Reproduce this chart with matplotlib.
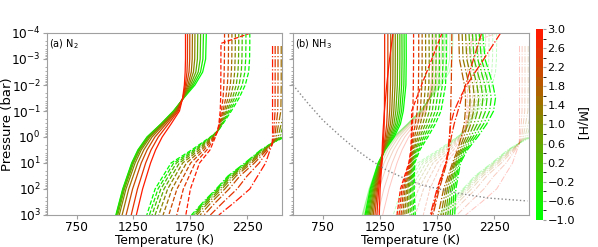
import numpy as np
import matplotlib
matplotlib.use("Agg")
import matplotlib.pyplot as plt
from matplotlib.colors import LinearSegmentedColormap, BoundaryNorm
from matplotlib.cm import ScalarMappable

# ---------------- data ----------------
mh_a = [-1.0, -0.5, 0.0, 0.5, 1.0, 1.5, 2.0, 2.5, 3.0]
mh_b = [-1.0, -0.6, -0.2, 0.2, 0.6, 1.0, 1.4, 1.8, 2.2, 2.6, 3.0]

# Panel (a) N2 : solid family
logp_a_solid = [-4, -3, -2.5, -2, -1.5, -1, -0.5, 0, 0.5, 1, 2, 3]
T_a_solid = [
    [1890, 1884, 1858, 1790, 1692, 1600, 1490, 1368, 1288, 1234, 1155, 1095],
    [1865, 1860, 1839, 1777, 1690, 1604, 1492, 1372, 1292, 1237, 1158, 1098],
    [1840, 1836, 1819, 1765, 1689, 1609, 1496, 1377, 1297, 1242, 1163, 1103],
    [1815, 1812, 1798, 1752, 1688, 1614, 1501, 1385, 1305, 1250, 1171, 1112],
    [1790, 1788, 1777, 1740, 1686, 1620, 1509, 1396, 1318, 1264, 1184, 1125],
    [1768, 1766, 1758, 1728, 1685, 1626, 1520, 1413, 1340, 1287, 1208, 1150],
    [1745, 1744, 1738, 1716, 1684, 1634, 1536, 1438, 1369, 1318, 1242, 1185],
    [1725, 1724, 1720, 1706, 1683, 1643, 1556, 1468, 1404, 1357, 1285, 1230],
    [1707, 1707, 1704, 1697, 1682, 1654, 1580, 1502, 1444, 1400, 1330, 1275],
]
# Panel (a) N2 : dashed family
logp_a_dashed = [-4, -3.6, -3, -2.5, -2, -1.5, -1, -0.5, -0.25, 0, 0.5, 1, 2, 3]
T_a_dashed = [
    [2272, 2272, 2270, 2262, 2232, 2178, 2110, 2035, 1995, 1925, 1760, 1580, 1440, 1367],
    [2238, 2238, 2236, 2229, 2205, 2158, 2097, 2030, 1995, 1930, 1775, 1603, 1465, 1390],
    [2205, 2205, 2203, 2197, 2178, 2138, 2084, 2025, 1994, 1936, 1791, 1627, 1490, 1413],
    [2175, 2175, 2173, 2168, 2153, 2120, 2072, 2020, 1993, 1942, 1808, 1653, 1518, 1440],
    [2145, 2145, 2143, 2139, 2127, 2101, 2060, 2015, 1992, 1948, 1827, 1682, 1550, 1472],
    [2115, 2115, 2114, 2110, 2101, 2081, 2048, 2010, 1991, 1954, 1848, 1715, 1588, 1510],
    [2085, 2085, 2084, 2081, 2075, 2061, 2036, 2006, 1990, 1960, 1870, 1752, 1632, 1560],
    [2050, 2050, 2049, 2047, 2044, 2037, 2023, 2003, 1990, 1966, 1895, 1791, 1688, 1630],
    [2280, 2019, 2018, 2018, 2017, 2016, 2012, 2000, 1990, 1970, 1922, 1830, 1750, 1710],
]
# Panel (a) N2 : dash-dot family
logp_a_dashdot = [-3.5, -3, -2, -1, 0, 0.3, 0.5, 1, 1.5, 2, 2.5, 3]
T_a_dashdot = [
    [2700, 2700, 2700, 2690, 2580, 2440, 2367, 2228, 2080, 1976, 1863, 1759],
    [2670, 2670, 2670, 2662, 2565, 2445, 2375, 2237, 2090, 1985, 1872, 1768],
    [2640, 2640, 2640, 2633, 2550, 2450, 2383, 2247, 2101, 1996, 1882, 1778],
    [2610, 2610, 2610, 2605, 2535, 2454, 2392, 2258, 2114, 2009, 1895, 1790],
    [2580, 2580, 2580, 2576, 2520, 2458, 2401, 2271, 2130, 2027, 1912, 1808],
    [2548, 2548, 2548, 2545, 2505, 2461, 2411, 2288, 2152, 2052, 1937, 1835],
    [2520, 2520, 2520, 2518, 2492, 2464, 2422, 2313, 2185, 2090, 1975, 1870],
    [2495, 2495, 2495, 2494, 2480, 2466, 2435, 2355, 2248, 2160, 2040, 1925],
    [2472, 2472, 2472, 2472, 2472, 2468, 2450, 2411, 2341, 2272, 2141, 2000],
]

# Panel (b) NH3 : solid family
logp_b_solid = [-4, -3, -2, -1, -0.5, 0, 0.5, 1, 2, 3]
T_b_solid = [
    [1480, 1481, 1478, 1455, 1430, 1375, 1295, 1235, 1165, 1120],
    [1462, 1463, 1460, 1440, 1416, 1365, 1293, 1239, 1172, 1128],
    [1443, 1444, 1441, 1424, 1402, 1356, 1291, 1244, 1180, 1137],
    [1425, 1425, 1423, 1408, 1388, 1347, 1289, 1248, 1188, 1146],
    [1405, 1405, 1403, 1390, 1373, 1338, 1287, 1252, 1196, 1156],
    [1385, 1385, 1383, 1372, 1358, 1328, 1285, 1255, 1204, 1167],
    [1365, 1365, 1363, 1354, 1343, 1318, 1283, 1258, 1212, 1179],
    [1345, 1345, 1343, 1336, 1327, 1308, 1281, 1261, 1221, 1192],
    [1320, 1320, 1319, 1315, 1310, 1297, 1279, 1263, 1230, 1207],
    [1292, 1292, 1291, 1290, 1288, 1284, 1276, 1266, 1240, 1224],
    [1365, 1335, 1310, 1290, 1282, 1275, 1270, 1268, 1252, 1245],
]
# Panel (b) NH3 : dashed family
logp_b_dashed = [-4, -3, -2, -1, -0.5, 0, 0.5, 1, 2, 3]
T_b_dashed = [
    [1830, 1832, 1825, 1785, 1735, 1670, 1600, 1555, 1550, 1560],
    [1800, 1802, 1797, 1760, 1713, 1652, 1589, 1549, 1540, 1545],
    [1770, 1772, 1768, 1735, 1692, 1635, 1578, 1543, 1530, 1530],
    [1740, 1742, 1738, 1709, 1670, 1618, 1567, 1537, 1518, 1515],
    [1710, 1712, 1709, 1683, 1648, 1601, 1557, 1532, 1507, 1500],
    [1680, 1682, 1679, 1657, 1626, 1585, 1548, 1527, 1495, 1485],
    [1650, 1651, 1649, 1631, 1604, 1569, 1540, 1522, 1483, 1468],
    [1620, 1620, 1618, 1604, 1582, 1553, 1533, 1518, 1470, 1452],
    [1590, 1590, 1588, 1577, 1560, 1540, 1527, 1513, 1457, 1435],
    [1545, 1545, 1543, 1539, 1536, 1531, 1524, 1508, 1443, 1418],
    [1794, 1705, 1615, 1528, 1527, 1525, 1521, 1503, 1430, 1400],
]
# Panel (b) NH3 : dash-dot family
logp_b_dashdot = [-4, -3, -2, -1.5, -1, -0.5, 0, 0.5, 1, 2, 3]
T_b_dashdot = [
    [2150, 2170, 2240, 2262, 2245, 2185, 2105, 2015, 1955, 1915, 1905],
    [2120, 2138, 2205, 2225, 2210, 2158, 2085, 2003, 1945, 1900, 1885],
    [2090, 2106, 2170, 2188, 2175, 2130, 2065, 1991, 1935, 1885, 1865],
    [2060, 2074, 2135, 2152, 2140, 2102, 2045, 1979, 1925, 1870, 1845],
    [2030, 2042, 2100, 2115, 2105, 2074, 2025, 1967, 1915, 1855, 1825],
    [2000, 2010, 2065, 2078, 2070, 2046, 2005, 1955, 1905, 1840, 1805],
    [1970, 1978, 2030, 2040, 2035, 2018, 1985, 1943, 1895, 1825, 1785],
    [1940, 1946, 1990, 2000, 1998, 1988, 1962, 1930, 1885, 1808, 1760],
    [1880, 1878, 1875, 1872, 1870, 1866, 1860, 1850, 1835, 1770, 1715],
    [2141, 2070, 2000, 1965, 1933, 1900, 1875, 1855, 1830, 1760, 1700],
    [2307, 2160, 2010, 1950, 1900, 1870, 1858, 1848, 1825, 1750, 1690],
]

# grey dotted curve in panel (b)
curve_T = [490, 620, 751, 900, 1047, 1180, 1307, 1460, 1620, 1916, 2203, 2542]
curve_logp = [-2.0, -1.3, -0.65, -0.05, 0.5, 0.92, 1.27, 1.58, 1.85, 2.15, 2.35, 2.46]

xticks = [750, 1250, 1750, 2250]
cbar_ticks = [-1.0, -0.6, -0.2, 0.2, 0.6, 1.0, 1.4, 1.8, 2.2, 2.6, 3.0]

# ---------------- figure ----------------
W, H = 598, 247
fig = plt.figure(figsize=(W / 100, H / 100), dpi=100)

def px_axes(x0, y0, x1, y1):
    return fig.add_axes([x0 / W, 1 - y1 / H, (x1 - x0) / W, (y1 - y0) / H])

ax_a = px_axes(47, 33, 282, 215)
ax_b = px_axes(293, 33, 529, 215)
cax = px_axes(536, 29, 542.5, 220)

cmap = LinearSegmentedColormap.from_list("mh", ["#00ff00", "#ff1a00"])
bounds = np.linspace(-1, 3, 21)
norm = BoundaryNorm(bounds, cmap.N)

spine_col = "#a0a0a0"

def draw(ax, mh, logp, table, ls, lw=0.9, alpha=1.0):
    p = 10.0 ** np.asarray(logp, dtype=float)
    for z, row in zip(mh, table):
        ax.plot(row, p, ls=ls, color=cmap(norm(z)), lw=lw, alpha=alpha)

# faint copies in (b)
for fam_logp, fam_T, ls in [(logp_a_solid, T_a_solid, "-"),
                            (logp_a_dashed, T_a_dashed, "--"),
                            (logp_a_dashdot, T_a_dashdot, "-.")]:
    draw(ax_b, mh_a, fam_logp, fam_T, ls, lw=0.7, alpha=0.25)

draw(ax_a, mh_a, logp_a_solid, T_a_solid, "-")
draw(ax_a, mh_a, logp_a_dashed, T_a_dashed, "--")
draw(ax_a, mh_a, logp_a_dashdot, T_a_dashdot, "-.")

draw(ax_b, mh_b, logp_b_solid, T_b_solid, "-")
draw(ax_b, mh_b, logp_b_dashed, T_b_dashed, "--")
draw(ax_b, mh_b, logp_b_dashdot, T_b_dashdot, "-.")

ax_b.plot(curve_T, 10.0 ** np.asarray(curve_logp), ls=":", color="#888888", lw=1.0)

for ax in (ax_a, ax_b):
    ax.set_yscale("log")
    ax.set_ylim(1e3, 1e-4)
    ax.set_xlim(490, 2555)
    ax.set_xticks(xticks)
    ax.set_yticks([1e-4, 1e-3, 1e-2, 1e-1, 1e0, 1e1, 1e2, 1e3])
    for s in ax.spines.values():
        s.set_color(spine_col)
    ax.tick_params(axis="both", which="major", labelsize=8.7, color=spine_col,
                   length=3, pad=1.5)
    ax.tick_params(axis="both", which="minor", color=spine_col, length=1.8)
    ax.set_xlabel("Temperature (K)", fontsize=8.8, labelpad=0)

ax_a.set_ylabel("Pressure (bar)", fontsize=9.5)
ax_a.yaxis.set_label_coords(-0.14, 0.5)
ax_b.tick_params(axis="y", which="both", labelleft=False)

ax_a.text(0.01, 0.975, "(a) N$_2$", transform=ax_a.transAxes, fontsize=7, va="top", ha="left")
ax_b.text(0.01, 0.975, "(b) NH$_3$", transform=ax_b.transAxes, fontsize=7, va="top", ha="left")

sm = ScalarMappable(norm=norm, cmap=cmap)
cb = fig.colorbar(sm, cax=cax, ticks=cbar_ticks)
cb.outline.set_visible(False)
cb.ax.tick_params(labelsize=8.2, length=2, color=spine_col, pad=1.5)
cb.ax.set_yticklabels([f"{t:.1f}".replace("-", "\u2212") for t in cbar_ticks])
cb.set_label("[M/H]", fontsize=9, rotation=270, labelpad=9)

fig.savefig("out.png", dpi=100)
